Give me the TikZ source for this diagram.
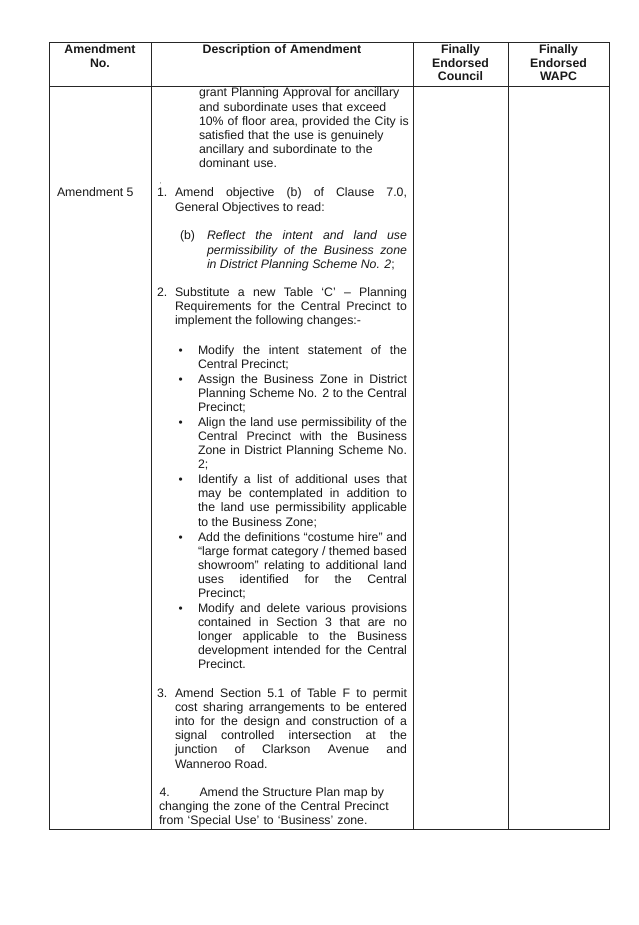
\documentclass[tikz,border=0pt]{standalone}
\usepackage{fontspec}
\setmainfont{Liberation Sans}
\hyphenpenalty=10000
\exhyphenpenalty=10000
\tolerance=9999
\begin{document}
\begin{tikzpicture}[x=1pt,y=-1pt,
  rule/.style={line width=1pt, draw=black!85},
  txt/.style={inner sep=0pt, outer sep=0pt, anchor=base west, font=\fontsize{12.3}{14.2}\selectfont, text=black!90},
  para/.style={txt, text width=#1, align=justify},
  rag/.style={txt, text width=#1, align=left},
  bul/.style={txt, font=\fontsize{11.8}{14.2}\selectfont},
  head/.style={inner sep=0pt, outer sep=0pt, anchor=base, font=\bfseries\fontsize{12.3}{13.5}\selectfont, text=black!90, text width=#1, align=center},
]
\useasboundingbox (0,0) rectangle (638,925);
\fill[white] (0,0) rectangle (638,925);

% table frame
\coordinate (TL) at (49,42.5);
\coordinate (BR) at (609.5,829);
\draw[rule] (TL) rectangle (BR);
\draw[rule] (49,86.5) -- (609.5,86.5);
\draw[rule] (151.5,42.5) -- (151.5,829);
\draw[rule] (413,42.5) -- (413,829);
\draw[rule] (508,42.5) -- (508,829);

% header
\node[head=95] (h1) at (100,54) {Amendment\\No.};
\node[head=250] (h2) at (282,54) {Description of Amendment};
\node[head=90] (h3) at (460.5,54) {Finally\\Endorsed\\Council};
\node[head=90] (h4) at (558.5,54) {Finally\\Endorsed\\WAPC};

% continuation text
\node[rag=212] (cont) at (199,97) {grant Planning Approval for ancillary\\and subordinate uses that exceed\\10\% of floor area, provided the City is\\satisfied that the use is genuinely\\ancillary and subordinate to the\\dominant use.};

% amendment 5
\node[txt] (am5) at (57,197) {Amendment 5};
\node[txt, font=\fontsize{6}{6}\selectfont] (mark) at (159.5,184) {,};

\node[txt] (n1) at (157,197) {1.};
\node[para=232] (t1) at (175,197) {Amend objective (b) of Clause 7.0,\linebreak General Objectives to read:};

\node[txt] (nb) at (180,240) {(b)};
\node[para=200] (tb) at (207,240) {\itshape Reflect the intent and land use\linebreak permissibility of the Business zone\linebreak in District Planning Scheme No. 2\upshape;};

\node[txt] (n2) at (157,296) {2.};
\node[para=232] (t2) at (175,296) {Substitute a new Table ‘C’ – Planning\linebreak Requirements for the Central Precinct to\linebreak implement the following changes:-};

% bullets
\node[bul] (b1) at (178.5,354) {•};
\node[para=209] (tb1) at (198,354) {Modify the intent statement of the\linebreak Central Precinct;};
\node[bul] (b2) at (178.5,383) {•};
\node[para=209] (tb2) at (198,383) {Assign the Business Zone in District\linebreak Planning Scheme No. 2 to the Central\linebreak Precinct;};
\node[bul] (b3) at (178.5,426) {•};
\node[para=209] (tb3) at (198,426) {Align the land use permissibility of the\linebreak Central Precinct with the Business\linebreak Zone in District Planning Scheme No.\linebreak 2;};
\node[bul] (b4) at (178.5,483.5) {•};
\node[para=209] (tb4) at (198,483.5) {Identify a list of additional uses that\linebreak may be contemplated in addition to\linebreak the land use permissibility applicable\linebreak to the Business Zone;};
\node[bul] (b5) at (178.5,541) {•};
\node[para=209] (tb5) at (198,541) {Add the definitions “costume hire” and\linebreak “large format category / themed based\linebreak showroom” relating to additional land\linebreak uses identified for the Central\linebreak Precinct;};
\node[bul] (b6) at (178.5,612) {•};
\node[para=209] (tb6) at (198,612) {Modify and delete various provisions\linebreak contained in Section 3 that are no\linebreak longer applicable to the Business\linebreak development intended for the Central\linebreak Precinct.};

% item 3
\node[txt] (n3) at (157,697) {3.};
\node[para=232] (t3) at (175,697) {Amend Section 5.1 of Table F to permit\linebreak cost sharing arrangements to be entered\linebreak into for the design and construction of a\linebreak signal controlled intersection at the\linebreak junction of Clarkson Avenue and\linebreak Wanneroo Road.};

% item 4
\node[txt] (n4) at (159.5,796) {4.};
\node[txt] (t4a) at (199.5,796) {Amend the Structure Plan map by};
\node[rag=250] (t4b) at (159,810) {changing the zone of the Central Precinct\\from ‘Special Use’ to ‘Business’ zone.};
\end{tikzpicture}
\end{document}
